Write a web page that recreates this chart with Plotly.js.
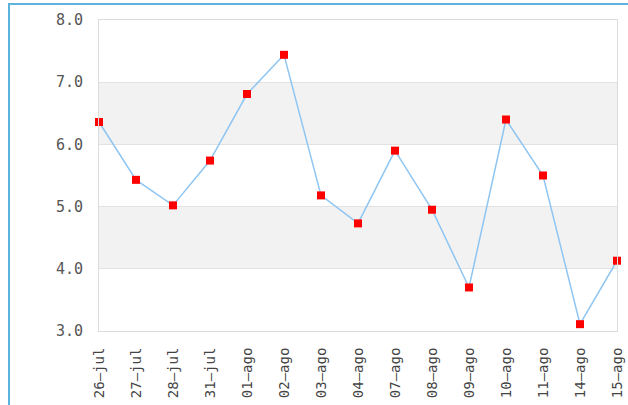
<!DOCTYPE html>
<html>
<head>
<meta charset="utf-8">
<script src="https://cdn.plot.ly/plotly-3.0.1.min.js"></script>
<style>
html,body{margin:0;padding:0;background:#fff;overflow:hidden;}
#frame{position:absolute;left:8px;top:3px;width:700px;height:500px;border-left:2px solid #5db3de;border-top:2px solid #5db3de;}
#chart{position:absolute;left:0;top:0;width:628px;height:405px;}
</style>
</head>
<body>
<div id="frame"></div>
<div id="chart"></div>
<script>
const categories = ["26–jul","27–jul","28–jul","31–jul","01–ago","02–ago","03–ago","04–ago","07–ago","08–ago","09–ago","10–ago","11–ago","14–ago","15–ago"];
const values = [6.36, 5.43, 5.02, 5.74, 6.81, 7.44, 5.18, 4.73, 5.90, 4.95, 3.70, 6.40, 5.50, 3.11, 4.13];
const yTicks = [3, 4, 5, 6, 7, 8];
const yTickLabels = ["3.0", "4.0", "5.0", "6.0", "7.0", "8.0"];
const bands = [[4, 5], [6, 7]];

const trace = {
  x: categories,
  y: values,
  type: 'scatter',
  mode: 'lines+markers',
  line: {color: '#8ec5f2', width: 1.5},
  marker: {symbol: 'square', color: '#ff0000', size: 8},
  cliponaxis: false,
  hoverinfo: 'skip'
};

const shapes = bands.map(b => ({
  type: 'rect', xref: 'paper', yref: 'y', x0: 0, x1: 1, y0: b[0], y1: b[1],
  fillcolor: '#f2f2f2', line: {width: 0}, layer: 'below'
}));

const layout = {
  width: 628, height: 405,
  margin: {l: 99, r: 11, t: 20, b: 74, pad: 0},
  paper_bgcolor: 'rgba(0,0,0,0)',
  plot_bgcolor: 'rgba(0,0,0,0)',
  showlegend: false,
  font: {family: 'DejaVu Sans Mono, monospace', color: '#555'},
  shapes: shapes,
  xaxis: {
    type: 'category',
    range: [0, categories.length - 1],
    showgrid: false,
    zeroline: false,
    showline: true, mirror: true, linecolor: '#dcdcdc', linewidth: 1,
    tickangle: -90,
    ticks: 'outside', ticklen: 10, tickcolor: 'rgba(0,0,0,0)',
    tickfont: {family: 'DejaVu Sans Mono, monospace', size: 14, color: '#444'},
    fixedrange: true
  },
  yaxis: {
    range: [3, 8],
    tickvals: yTicks,
    ticktext: yTickLabels,
    showgrid: true, gridcolor: '#e2e2e2', gridwidth: 1,
    zeroline: false,
    showline: true, mirror: true, linecolor: '#dcdcdc', linewidth: 1,
    ticks: 'outside', ticklen: 12, tickcolor: 'rgba(0,0,0,0)',
    tickfont: {family: 'DejaVu Sans Mono, monospace', size: 15, color: '#555'},
    fixedrange: true
  }
};

Plotly.newPlot('chart', [trace], layout, {displayModeBar: false, staticPlot: true});
</script>
</body>
</html>
